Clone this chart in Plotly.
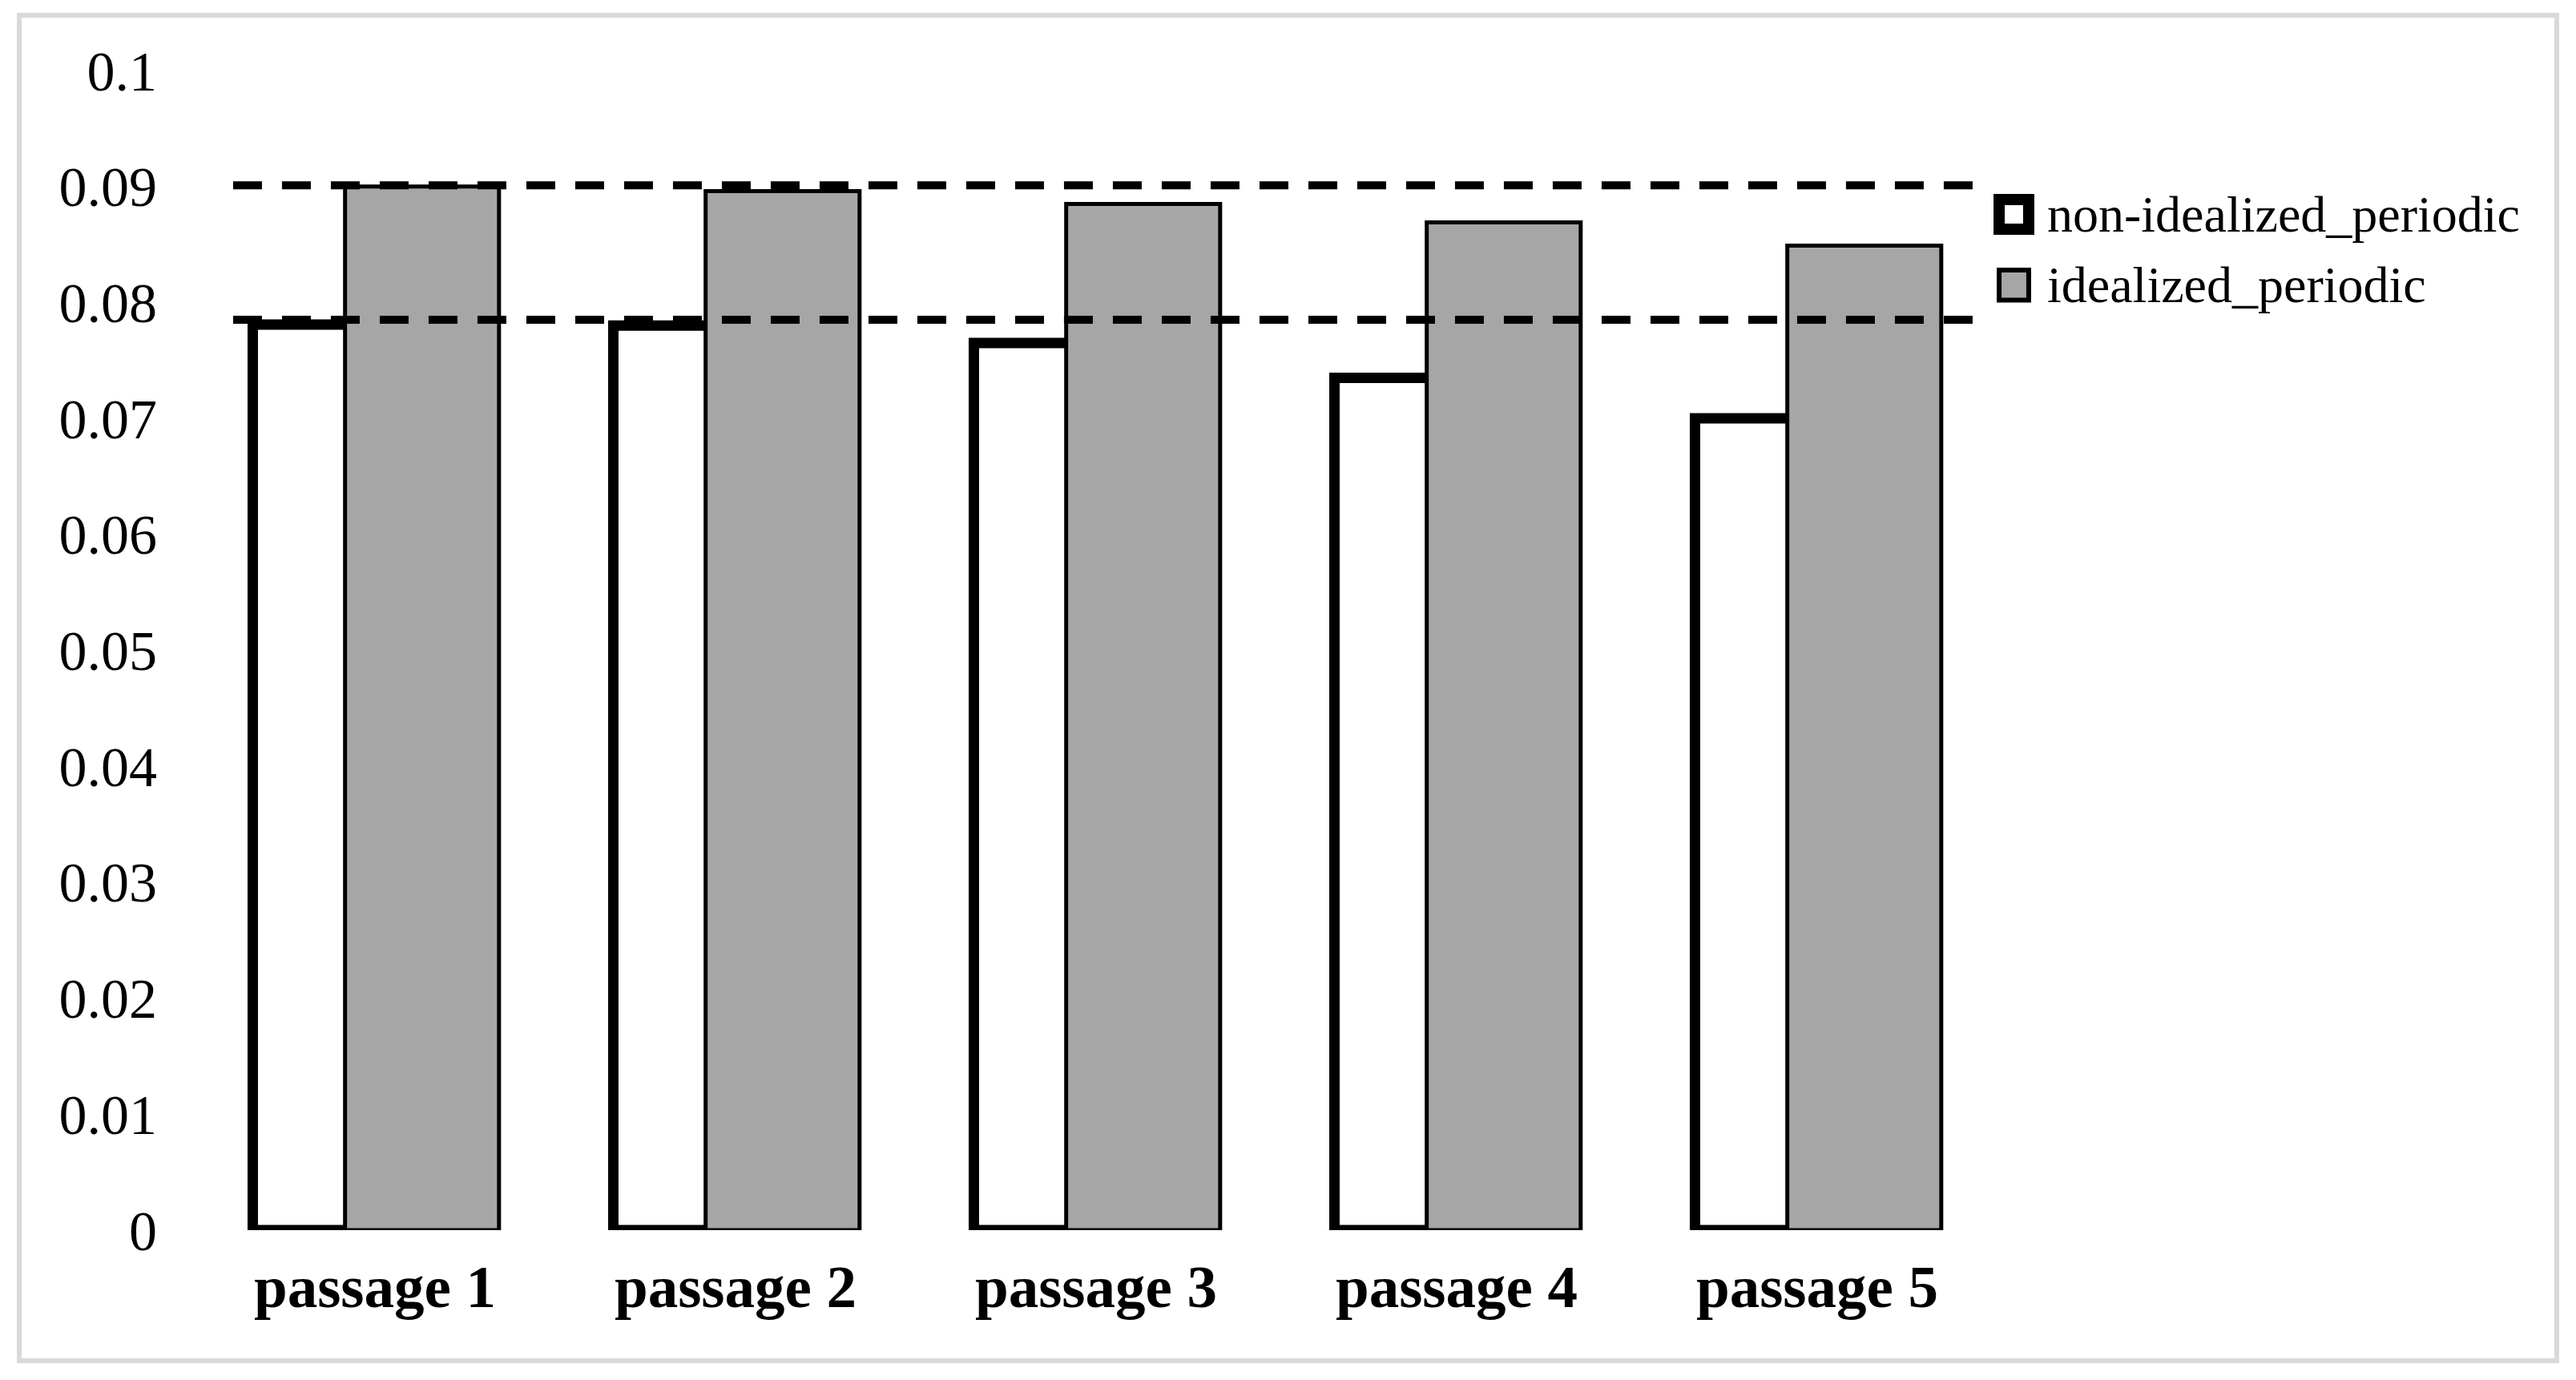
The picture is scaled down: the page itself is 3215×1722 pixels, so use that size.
import plotly.graph_objects as go

# Values
passages = ["passage 1", "passage 2", "passage 3", "passage 4", "passage 5"]
series_names = ["non-idealized_periodic", "idealized_periodic"]
non_idealized = [0.0781, 0.0780, 0.0765, 0.0735, 0.0700]
idealized = [0.0900, 0.0896, 0.0885, 0.0869, 0.0849]
reference_levels = [0.0901, 0.0785]
y_ticks = [0, 0.01, 0.02, 0.03, 0.04, 0.05, 0.06, 0.07, 0.08, 0.09, 0.1]
y_tick_labels = ["0", "0.01", "0.02", "0.03", "0.04", "0.05", "0.06", "0.07", "0.08", "0.09", "0.1"]

# page body has an 8px margin, so the figure is a little smaller than the window
W, H = 3207, 1714
SERIF = "Liberation Serif"
GREY = "#a6a6a6"

fig = go.Figure()

# thick-outlined white bars first, grey bars overlap them on the right
fig.add_trace(go.Bar(
    x=passages, y=non_idealized, name=series_names[0],
    width=0.427, offset=-0.339,
    marker=dict(color="white", line=dict(color="black", width=13)),
    showlegend=False,
))
fig.add_trace(go.Bar(
    x=passages, y=idealized, name=series_names[1],
    width=0.427, offset=-0.083,
    marker=dict(color=GREY, line=dict(color="black", width=5)),
    showlegend=False,
))

# dashed reference lines
for lvl in reference_levels:
    fig.add_shape(
        type="line", xref="paper", yref="y",
        x0=0.0213, x1=0.989, y0=lvl, y1=lvl,
        line=dict(color="black", width=10, dash="36px,25px"),
        layer="above",
    )

# hand-made legend (symbols are larger than plotly's fixed legend icons)
legend_rows = [
    dict(fill="white", lw=14, y0=0.8632, y1=0.8887, ty=0.8760),
    dict(fill=GREY, lw=6, y0=0.8020, y1=0.8279, ty=0.8150),
]
for name, row in zip(series_names, legend_rows):
    fig.add_shape(
        type="rect", xref="paper", yref="paper",
        x0=1.0009, x1=1.0173, y0=row["y0"], y1=row["y1"],
        fillcolor=row["fill"], line=dict(color="black", width=row["lw"]),
    )
    fig.add_annotation(
        xref="paper", yref="paper", x=1.0267, y=row["ty"],
        text=name, showarrow=False, xanchor="left", yanchor="middle",
        font=dict(family=SERIF, size=64, color="black"),
    )

# light grey frame round the whole chart
fig.add_shape(
    type="rect", xref="paper", yref="paper",
    x0=-0.0973, x1=1.3102, y0=-0.1126, y1=1.0477,
    line=dict(color="#d9d9d9", width=6), fillcolor="rgba(0,0,0,0)",
)

fig.update_layout(
    width=W, height=H,
    margin=dict(l=235, r=722, t=80, b=187, autoexpand=False),
    barmode="overlay",
    plot_bgcolor="white",
    paper_bgcolor="white",
    showlegend=False,
    xaxis=dict(
        showgrid=False, zeroline=False, showline=False, ticks="",
        tickfont=dict(family=SERIF, size=75, color="black", weight="bold"),
        ticklabelstandoff=20,
    ),
    yaxis=dict(
        range=[0, 0.1],
        tickvals=y_ticks, ticktext=y_tick_labels,
        showgrid=False, zeroline=False, showline=False, ticks="",
        tickfont=dict(family=SERIF, size=70, color="black"),
        ticklabelstandoff=46,
    ),
)

fig.write_html("out.html")
